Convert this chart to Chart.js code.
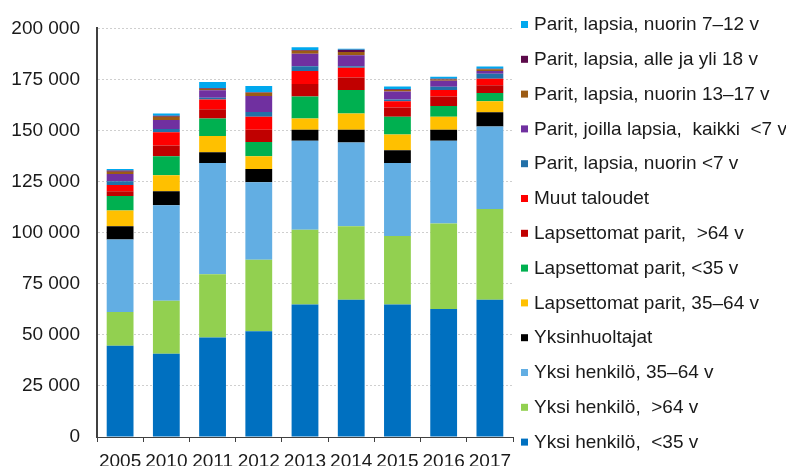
<!DOCTYPE html>
<html>
<head>
<meta charset="utf-8">
<script src="https://cdn.jsdelivr.net/npm/chart.js@4"></script>
<style>
  html, body { margin: 0; padding: 0; background: #ffffff; }
  #kaavio { display: block; }
</style>
</head>
<body>
<canvas id="kaavio" width="786" height="466"></canvas>
<script>
var vuodet = ["2005", "2010", "2011", "2012", "2013", "2014", "2015", "2016", "2017"];

var yksiAlle35 = [44700, 40800, 48700, 51800, 64800, 67200, 64800, 62600, 67200];
var yksiYli64 = [16500, 25900, 31000, 34900, 36700, 36000, 33600, 41900, 44400];
var yksi35_64 = [35500, 46700, 54400, 38000, 43500, 41000, 35700, 40500, 40400];
var yksinhuoltajat = [6500, 6900, 5300, 6500, 5400, 6200, 6300, 5400, 6900];
var lapsettomat35_64 = [7700, 7800, 7900, 6200, 5500, 7900, 7700, 6300, 5500];
var lapsettomatAlle35 = [7100, 9300, 8600, 7000, 10800, 11600, 8600, 5300, 4000];
var lapsettomatYli64 = [2300, 5300, 4500, 6000, 6100, 6100, 4600, 4700, 3800];
var muutTaloudet = [3100, 6500, 4800, 6400, 6300, 4700, 3100, 3200, 3100];
var paritAlle7 = [1800, 1600, 800, 2300, 2400, 800, 800, 1500, 2500];
var paritKaikkiAlle7 = [3500, 4400, 3700, 7800, 6100, 5300, 3900, 3000, 1400];
var parit13_17 = [1100, 1600, 800, 1600, 1500, 1600, 800, 600, 800];
var paritAlleYli18 = [600, 400, 300, 300, 300, 1100, 300, 300, 300];
var parit7_12 = [800, 1100, 3000, 3000, 1400, 500, 1400, 1000, 1000];

var yAkseli = [0, 25000, 50000, 75000, 100000, 125000, 150000, 175000, 200000];

function sarja(nimi, arvot, vari) {
  return { label: nimi, data: arvot, backgroundColor: vari, borderWidth: 0, barPercentage: 0.58, categoryPercentage: 1 };
}

function muotoile(luku) {
  return String(luku).replace(/\B(?=(\d{3})+(?!\d))/g, " ");
}

// legenda piirretään itse, koska 13 riviä ei mahdu Chart.js:n omaan legendaan
var legendaPlugin = {
  id: "legenda",
  afterDraw: function (chart) {
    var ctx = chart.ctx;
    var sarjat = chart.data.datasets;
    ctx.save();
    ctx.font = '19px "Liberation Sans", Arial, sans-serif';
    ctx.textBaseline = "middle";
    for (var i = 0; i < sarjat.length; i++) {
      var s = sarjat[sarjat.length - 1 - i];
      var y = 24 + i * 34.8;
      ctx.fillStyle = s.backgroundColor;
      ctx.fillRect(521, y - 3, 7, 7);
      ctx.fillStyle = "#1a1a1a";
      ctx.fillText(s.label, 534, y + 1);
    }
    ctx.restore();
  }
};

new Chart(document.getElementById("kaavio").getContext("2d"), {
  type: "bar",
  data: {
    labels: vuodet,
    datasets: [
      sarja("Yksi henkilö,  <35 v", yksiAlle35, "#0070c0"),
      sarja("Yksi henkilö,  >64 v", yksiYli64, "#92d050"),
      sarja("Yksi henkilö, 35–64 v", yksi35_64, "#62aee3"),
      sarja("Yksinhuoltajat", yksinhuoltajat, "#000000"),
      sarja("Lapsettomat parit, 35–64 v", lapsettomat35_64, "#ffc000"),
      sarja("Lapsettomat parit, <35 v", lapsettomatAlle35, "#00b050"),
      sarja("Lapsettomat parit,  >64 v", lapsettomatYli64, "#c00000"),
      sarja("Muut taloudet", muutTaloudet, "#ff0000"),
      sarja("Parit, lapsia, nuorin <7 v", paritAlle7, "#2270a8"),
      sarja("Parit, joilla lapsia,  kaikki  <7 v", paritKaikkiAlle7, "#7030a0"),
      sarja("Parit, lapsia, nuorin 13–17 v", parit13_17, "#9c5b14"),
      sarja("Parit, lapsia, alle ja yli 18 v", paritAlleYli18, "#5c0a4a"),
      sarja("Parit, lapsia, nuorin 7–12 v", parit7_12, "#00a8ee")
    ]
  },
  options: {
    responsive: false,
    animation: false,
    layout: { padding: { left: 0, right: 273, top: 24, bottom: 0 } },
    plugins: {
      legend: { display: false },
      tooltip: { enabled: false }
    },
    scales: {
      x: {
        stacked: true,
        grid: { offset: true, drawOnChartArea: false, tickLength: 5, color: "#404040" },
        border: { color: "#404040", width: 1 },
        ticks: {
          autoSkip: false,
          maxRotation: 0,
          padding: 8,
          color: "#1a1a1a",
          font: { family: '"Liberation Sans", Arial, sans-serif', size: 19 }
        },
        afterFit: function (akseli) { akseli.height = 29; }
      },
      y: {
        stacked: true,
        min: 0,
        max: 200000,
        afterBuildTicks: function (akseli) {
          akseli.ticks = yAkseli.map(function (v) { return { value: v }; });
        },
        grid: { drawTicks: false, color: "#cfcfcf" },
        border: { color: "#404040", width: 2, dash: [2, 2] },
        ticks: {
          padding: 17,
          color: "#1a1a1a",
          font: { family: '"Liberation Sans", Arial, sans-serif', size: 19 },
          callback: function (v) { return muotoile(v); }
        },
        afterFit: function (akseli) { akseli.width = 97; }
      }
    }
  },
  plugins: [legendaPlugin]
});
</script>
</body>
</html>
